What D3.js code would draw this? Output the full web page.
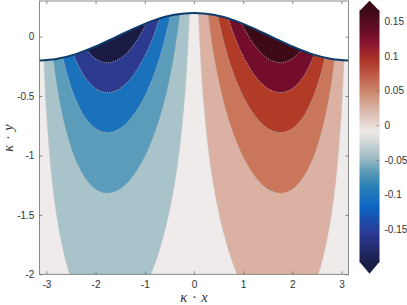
<!DOCTYPE html>
<html><head><meta charset="utf-8">
<script src="https://cdn.jsdelivr.net/npm/d3@7"></script>
<style>body{margin:0;background:#fff;} svg{display:block;font-family:"Liberation Sans",Arial,sans-serif;}</style>
</head><body><svg id="c" width="407" height="305"></svg>
<script>
// contour levels (|value|) and fill colours
const levels = [0.02, 0.06, 0.10, 0.14, 0.18];
const posColors = ["#dbb1a3", "#c9765a", "#b13b27", "#730d2b", "#3e0a15"];
const negColors = ["#a9c3ca", "#5a9cba", "#1a72bd", "#2c3a90", "#1a1c46"];
const zeroColor = "#efebeb";

// contour boundaries [κx, κy] — positive side
const pos02 = [[0.05,0.821],[0.1,0.128],[0.15,-0.278],[0.2,-0.565],[0.3,-0.967],[0.4,-1.252],[0.5,-1.469],[0.6,-1.645],[0.7,-1.793],[0.8,-1.917],[0.9,-2.021],[1.0,-2.112],[1.2,-2.252],[1.5,-2.381],[1.8,-2.416],[2.1,-2.347],[2.4,-2.143],[2.5,-2.033],[2.6,-1.894],[2.7,-1.715],[2.8,-1.477],[2.9,-1.146],[3.0,-0.620],[3.05,-0.191],[3.1,0.598]];
const pos06 = [[0.2,0.534],[0.3,0.132],[0.4,-0.153],[0.5,-0.370],[0.6,-0.546],[0.7,-0.694],[0.8,-0.818],[0.9,-0.922],[1.0,-1.013],[1.2,-1.153],[1.4,-1.250],[1.6,-1.304],[1.8,-1.317],[2.0,-1.284],[2.2,-1.198],[2.4,-1.044],[2.5,-0.934],[2.6,-0.795],[2.7,-0.616],[2.8,-0.378],[2.9,-0.047],[3.0,0.479]];
const pos10 = [[0.4,0.357],[0.5,0.140],[0.6,-0.036],[0.7,-0.184],[0.8,-0.308],[0.9,-0.412],[1.0,-0.503],[1.2,-0.643],[1.4,-0.740],[1.6,-0.794],[1.8,-0.807],[2.0,-0.774],[2.2,-0.688],[2.3,-0.621],[2.4,-0.534],[2.5,-0.424],[2.6,-0.285],[2.7,-0.106],[2.8,0.132]];
const pos14 = [[0.6,0.301],[0.7,0.153],[0.8,0.029],[0.9,-0.075],[1.0,-0.166],[1.2,-0.306],[1.4,-0.403],[1.6,-0.457],[1.8,-0.470],[2.0,-0.437],[2.2,-0.351],[2.3,-0.284],[2.4,-0.197],[2.5,-0.087],[2.6,0.052]];
const pos18 = [[0.9,0.176],[1.0,0.085],[1.1,0.010],[1.2,-0.055],[1.4,-0.152],[1.6,-0.206],[1.8,-0.219],[2.0,-0.186],[2.1,-0.150],[2.2,-0.100],[2.3,-0.033],[2.4,0.054]];
// negative side
const neg02 = [[-0.05,0.821],[-0.1,0.128],[-0.15,-0.278],[-0.2,-0.565],[-0.3,-0.967],[-0.4,-1.252],[-0.5,-1.469],[-0.6,-1.645],[-0.7,-1.793],[-0.8,-1.917],[-0.9,-2.021],[-1.0,-2.112],[-1.2,-2.252],[-1.5,-2.381],[-1.8,-2.416],[-2.1,-2.347],[-2.4,-2.143],[-2.5,-2.033],[-2.6,-1.894],[-2.7,-1.715],[-2.8,-1.477],[-2.9,-1.146],[-3.0,-0.620],[-3.05,-0.191],[-3.1,0.598]];
const neg06 = [[-0.2,0.534],[-0.3,0.132],[-0.4,-0.153],[-0.5,-0.370],[-0.6,-0.546],[-0.7,-0.694],[-0.8,-0.818],[-0.9,-0.922],[-1.0,-1.013],[-1.2,-1.153],[-1.4,-1.250],[-1.6,-1.304],[-1.8,-1.317],[-2.0,-1.284],[-2.2,-1.198],[-2.4,-1.044],[-2.5,-0.934],[-2.6,-0.795],[-2.7,-0.616],[-2.8,-0.378],[-2.9,-0.047],[-3.0,0.479]];
const neg10 = [[-0.4,0.357],[-0.5,0.140],[-0.6,-0.036],[-0.7,-0.184],[-0.8,-0.308],[-0.9,-0.412],[-1.0,-0.503],[-1.2,-0.643],[-1.4,-0.740],[-1.6,-0.794],[-1.8,-0.807],[-2.0,-0.774],[-2.2,-0.688],[-2.3,-0.621],[-2.4,-0.534],[-2.5,-0.424],[-2.6,-0.285],[-2.7,-0.106],[-2.8,0.132]];
const neg14 = [[-0.6,0.301],[-0.7,0.153],[-0.8,0.029],[-0.9,-0.075],[-1.0,-0.166],[-1.2,-0.306],[-1.4,-0.403],[-1.6,-0.457],[-1.8,-0.470],[-2.0,-0.437],[-2.2,-0.351],[-2.3,-0.284],[-2.4,-0.197],[-2.5,-0.087],[-2.6,0.052]];
const neg18 = [[-0.9,0.176],[-1.0,0.085],[-1.1,0.010],[-1.2,-0.055],[-1.4,-0.152],[-1.6,-0.206],[-1.8,-0.219],[-2.0,-0.186],[-2.1,-0.150],[-2.2,-0.100],[-2.3,-0.033],[-2.4,0.054]];

// free surface
const surfX = [-3.1416,-2.8,-2.4,-2.0,-1.6,-1.2,-0.8,-0.4,0,0.4,0.8,1.2,1.6,2.0,2.4,2.8,3.1416];
const surfY = [-0.2,-0.188,-0.147,-0.083,-0.006,0.072,0.139,0.184,0.2,0.184,0.139,0.072,-0.006,-0.083,-0.147,-0.188,-0.2];

const xTicks = [-3,-2,-1,0,1,2,3];
const yTicks = [-2,-1.5,-1,-0.5,0];
const cbTicks = [-0.15,-0.1,-0.05,0,0.05,0.1,0.15];
const cbRange = [-0.198, 0.166];
const cbStops = [[-0.198,"#1c1e4c"],[-0.156,"#2a3a94"],[-0.118,"#0c64c4"],[-0.089,"#2a80b8"],[-0.069,"#5598b6"],[-0.046,"#a0bcc4"],[-0.021,"#d8dcdc"],[-0.008,"#ece8e6"],[0.018,"#dcbcb0"],[0.047,"#cc8a70"],[0.070,"#c0604a"],[0.094,"#ac3426"],[0.119,"#8a1432"],[0.142,"#5e0c24"],[0.166,"#3c0914"]];

const svg = d3.select("#c");
const x = d3.scaleLinear([-Math.PI, Math.PI], [39.4, 348.5]);
const y = d3.scaleLinear([-2, 0.3], [274.3, 1.0]);
const defs = svg.append("defs");

const surf = surfX.map((v, i) => [v, surfY[i]]);
const area = d3.area().x(d => x(d[0])).y0(y(-2)).y1(d => y(d[1])).curve(d3.curveCatmullRom);
defs.append("clipPath").attr("id", "sea").append("path").attr("d", area(surf));

const g = svg.append("g").attr("clip-path", "url(#sea)");
g.append("path").attr("d", area(surf)).attr("fill", zeroColor);

const line = d3.line().x(d => x(d[0])).y(d => y(d[1])).curve(d3.curveCatmullRom);
function region(pts) {
  const a = pts[0], b = pts[pts.length - 1];
  return line(pts) + "L" + x(b[0]) + "," + y(1.2) + "L" + x(a[0]) + "," + y(1.2) + "Z";
}
const posCurves = [pos02, pos06, pos10, pos14, pos18];
const negCurves = [neg02, neg06, neg10, neg14, neg18];
levels.forEach((lv, i) => {
  g.append("path").attr("d", region(posCurves[i])).attr("fill", posColors[i]);
  g.append("path").attr("d", region(negCurves[i])).attr("fill", negColors[i]);
});
[...posCurves, ...negCurves].forEach(c => {
  g.append("path").attr("d", line(c)).attr("fill", "none")
    .attr("stroke", "#bdbdbd").attr("stroke-width", 0.9).attr("stroke-dasharray", "1,1.3");
});

// surface line
svg.append("path").attr("d", line(surf)).attr("fill", "none")
  .attr("stroke", "#0d3c6c").attr("stroke-width", 2);

// frame + axes
svg.append("rect").attr("x", 39.4).attr("y", 1.0).attr("width", 348.5 - 39.4).attr("height", 273.3)
  .attr("fill", "none").attr("stroke", "#6e6e6e").attr("stroke-width", 0.8);

function styleAxis(sel) {
  sel.select(".domain").remove();
  sel.selectAll(".tick line").attr("stroke", "#6e6e6e").attr("stroke-width", 0.8);
  sel.selectAll(".tick text").attr("fill", "#333").attr("font-size", 10)
    .attr("font-family", "'Liberation Sans', Arial, sans-serif");
}
svg.append("g").attr("transform", `translate(0,${y(-2)})`)
  .call(d3.axisBottom(x).tickValues(xTicks).tickSizeInner(-3).tickSizeOuter(0).tickPadding(6.5).tickFormat(d => String(d)))
  .call(styleAxis);
svg.append("g").attr("transform", `translate(0,${y(0.3)})`)
  .call(d3.axisTop(x).tickValues(xTicks).tickSizeInner(-3).tickSizeOuter(0).tickFormat(""))
  .call(styleAxis);
svg.append("g").attr("transform", `translate(${x(-Math.PI)},0)`)
  .call(d3.axisLeft(y).tickValues(yTicks).tickSizeInner(-3).tickSizeOuter(0).tickPadding(5).tickFormat(d => String(d)))
  .call(styleAxis);
svg.append("g").attr("transform", `translate(${x(Math.PI)},0)`)
  .call(d3.axisRight(y).tickValues(yTicks).tickSizeInner(-3).tickSizeOuter(0).tickFormat(""))
  .call(styleAxis);

// axis labels
svg.append("text").attr("x", 194).attr("y", 302).attr("text-anchor", "middle")
  .attr("font-family", "'Liberation Serif', 'DejaVu Serif', serif").attr("font-style", "italic")
  .attr("font-size", 14.5).attr("word-spacing", 1.5).attr("fill", "#333").text("κ · x");
svg.append("text").attr("transform", "translate(13,138) rotate(-90)").attr("text-anchor", "middle")
  .attr("font-family", "'Liberation Serif', 'DejaVu Serif', serif").attr("font-style", "italic")
  .attr("font-size", 14.5).attr("word-spacing", 1.5).attr("fill", "#333").text("κ · y");

// colorbar
const cb = d3.scaleLinear(cbRange, [262.3, 10.4]);
const grad = defs.append("linearGradient").attr("id", "cbg")
  .attr("x1", 0).attr("y1", 1).attr("x2", 0).attr("y2", 0);
cbStops.forEach(s => grad.append("stop")
  .attr("offset", (s[0] - cbRange[0]) / (cbRange[1] - cbRange[0])).attr("stop-color", s[1]));
const cbx0 = 359.5, cbx1 = 379.5;
svg.append("rect").attr("x", cbx0).attr("y", cb(cbRange[1])).attr("width", cbx1 - cbx0)
  .attr("height", cb(cbRange[0]) - cb(cbRange[1])).attr("fill", "url(#cbg)");
svg.append("path").attr("d", `M${cbx0},${cb(cbRange[1]) + 0.5}L${cbx1},${cb(cbRange[1]) + 0.5}L${(cbx0 + cbx1) / 2},0.7Z`)
  .attr("fill", cbStops[cbStops.length - 1][1]);
svg.append("path").attr("d", `M${cbx0},${cb(cbRange[0]) - 0.5}L${cbx1},${cb(cbRange[0]) - 0.5}L${(cbx0 + cbx1) / 2},273.8Z`)
  .attr("fill", cbStops[0][1]);
const cbAxis = svg.append("g").attr("transform", `translate(${cbx1},0)`)
  .call(d3.axisRight(cb).tickValues(cbTicks).tickSizeInner(-3).tickSizeOuter(0).tickPadding(5).tickFormat(d => String(d)))
  .call(styleAxis);
cbAxis.selectAll(".tick line").attr("stroke", "#555").attr("stroke-opacity", 0.6);
</script></body></html>
